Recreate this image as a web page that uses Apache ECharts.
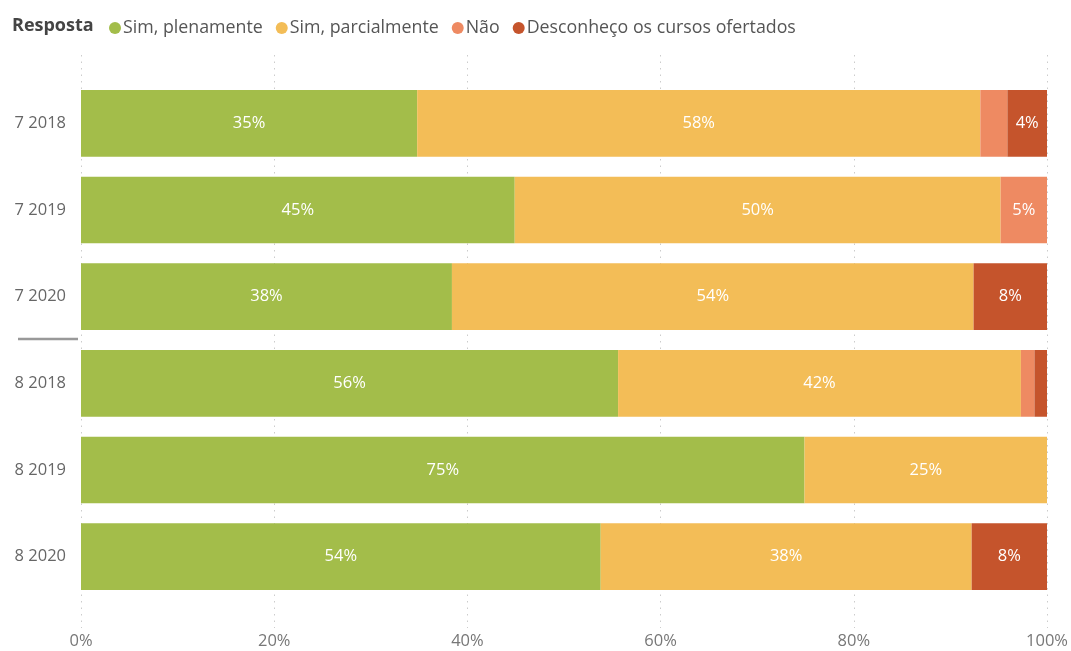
<!DOCTYPE html>
<html><head><meta charset="utf-8">
<script src="https://cdn.jsdelivr.net/npm/echarts@6/dist/echarts.min.js"></script>
<style>html,body{margin:0;padding:0;background:#fff}#c{width:1071px;height:651px}</style>
</head><body><div id="c"></div>
<script>
const categories = ['7 2018','7 2019','7 2020','8 2018','8 2019','8 2020'];
const simPlenamente   = [34.8, 44.9, 38.4, 55.6, 74.9, 53.8];
const simParcialmente = [58.3, 50.3, 54.0, 41.7, 25.1, 38.4];
const nao             = [2.8, 4.8, 0, 1.4, 0, 0];
const desconheco      = [4.1, 0, 7.6, 1.3, 0, 7.8];
const seriesNames = ['Sim, plenamente','Sim, parcialmente','Não','Desconheço os cursos ofertados'];
const colors = ['#A3BD4A','#F3BD57','#EE8A62','#C5542C'];
const xTicks = [0,20,40,60,80,100];

const font = '"Open Sans", "Noto Sans", sans-serif';
const chart = echarts.init(document.getElementById('c'));
const lbl = {
  show: true, color: '#fff', fontSize: 16.5, fontFamily: font,
  formatter: p => p.value >= 3.5 ? Math.round(p.value) + '%' : ''
};
const datas = [simPlenamente, simParcialmente, nao, desconheco];
const series = datas.map((d,i) => ({
  name: seriesNames[i], type: 'bar', stack: 'a', xAxisIndex: 1, yAxisIndex: 1,
  barCategoryGap: '23%', data: d.map(v => v === 0 ? null : v),
  itemStyle: {color: colors[i]}, label: lbl, emphasis: {disabled: true}
}));
const titleGraphic = {type: 'text', left: 12, top: 17, style: {text: 'Resposta', font: 'bold 18px ' + font, fill: '#444'}};
chart.setOption({
  animation: false,
  color: colors,
  legend: {
    left: 104, top: 14, icon: 'circle', itemWidth: 12, itemHeight: 12, itemGap: 13,
    data: seriesNames,
    textStyle: {fontFamily: font, fontSize: 17.8, color: '#555', padding: [0,0,0,-3]}
  },
  graphic: [titleGraphic],
  grid: [
    {left: 81, right: 24, top: 55, bottom: 23},
    {left: 81, right: 24, top: 80, bottom: 51}
  ],
  xAxis: [
    {gridIndex: 0, type: 'value', min: 0, max: 100, interval: 20,
     axisLine: {show: false}, axisTick: {show: false},
     axisLabel: {formatter: v => v + '%', color: '#777', fontSize: 16.5, fontFamily: font, margin: 5},
     splitLine: {show: true, lineStyle: {color: '#ccc', type: [1.5, 5], width: 1}}},
    {gridIndex: 1, type: 'value', min: 0, max: 100, show: false}
  ],
  yAxis: [
    {gridIndex: 0, type: 'value', show: false},
    {gridIndex: 1, type: 'category', data: categories, inverse: true,
     axisLine: {show: false}, axisTick: {show: false},
     axisLabel: {color: '#666', fontSize: 16.5, fontFamily: font, margin: 15}}
  ],
  series: series
});
// separator between groups "7" and "8"
const y2 = chart.convertToPixel({yAxisIndex: 1}, categories[2]);
const y3 = chart.convertToPixel({yAxisIndex: 1}, categories[3]);
const ySep = (y2 + y3) / 2 - 1;
chart.setOption({graphic: [titleGraphic,
  {type: 'line', shape: {x1: 18, y1: ySep, x2: 78, y2: ySep}, style: {stroke: '#999', lineWidth: 2.5}}]});
</script></body></html>
